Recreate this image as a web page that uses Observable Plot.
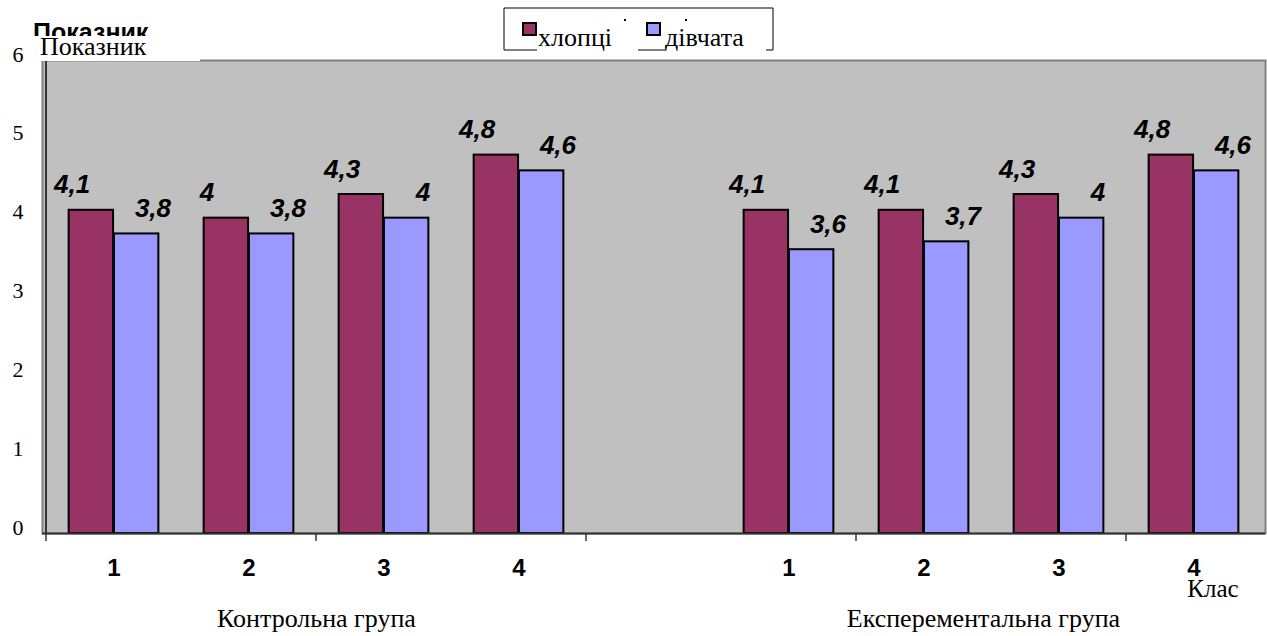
<!DOCTYPE html>
<html>
<head>
<meta charset="utf-8">
<script src="https://cdn.jsdelivr.net/npm/d3@7"></script>
<script src="https://cdn.jsdelivr.net/npm/@observablehq/plot@0.6"></script>
<style>
  html, body { margin: 0; padding: 0; background: #fff; }
  #chart svg { display: block; }
  .serif { font-family: "Liberation Serif", "DejaVu Serif", serif; }
</style>
</head>
<body>
<div id="chart"></div>
<script>
// ---- data ----
const groupKeys = ["К", "Е"];
const groupNames = ["Контрольна група", "Експерементальна група"];
const classes = ["1", "2", "3", "4"];
const series = ["хлопці", "дівчата"];
const boys  = [4.1, 4.0, 4.3, 4.8, 4.1, 4.1, 4.3, 4.8];
const girls = [3.8, 3.8, 4.0, 4.6, 3.6, 3.7, 4.0, 4.6];
const yTicks = [0, 1, 2, 3, 4, 5, 6];
const colors = ["#993366", "#9999FF"];
const yTitle = "Показник";
const xTitle = "Клас";

// slots: group 1 classes, empty slot, group 2 classes
const slots = [...classes.map(c => groupKeys[0] + c), "", ...classes.map(c => groupKeys[1] + c)];
const rows = [];
groupKeys.forEach((g, gi) => classes.forEach((c, ci) => {
  rows.push({slot: g + c, series: series[0], value: boys[gi * 4 + ci]});
  rows.push({slot: g + c, series: series[1], value: girls[gi * 4 + ci]});
}));
const fmt = v => String(v).replace(".", ",");

// ---- layout ----
const W = 1267, H = 636;
const mL = 42, mR = 2, mT = 60, mB = 103;
const step = (W - mL - mR) / slots.length;
const serif = "'Liberation Serif', 'DejaVu Serif', serif";
const sans = "'Liberation Sans', Arial, sans-serif";

const boysRows = rows.filter(d => d.series === series[0]);
const girlsRows = rows.filter(d => d.series === series[1]);
const labelStyle = {fontFamily: sans, fontWeight: "bold", fontStyle: "italic", fontSize: 26, fill: "#000",
  lineAnchor: "bottom", dy: -17};

const chart = Plot.plot({
  width: W, height: H,
  marginLeft: mL, marginRight: mR, marginTop: mT, marginBottom: mB,
  style: {background: "#fff", color: "#000"},
  x: {domain: slots, padding: 0, axis: null},
  y: {domain: [0, 6], axis: null},
  color: {domain: series, range: colors},
  marks: [
    Plot.frame({fill: "#c0c0c0", stroke: "#808080", strokeWidth: 2}),
    Plot.barY(boysRows, {x: "slot", y: "value", fill: "series", stroke: "#000", strokeWidth: 2,
      insetLeft: step / 6, insetRight: step / 2}),
    Plot.barY(girlsRows, {x: "slot", y: "value", fill: "series", stroke: "#000", strokeWidth: 2,
      insetLeft: step / 2, insetRight: step / 6}),
    Plot.text(boysRows, {x: "slot", y: "value", text: d => fmt(d.value), dx: -step / 4 - 8, ...labelStyle}),
    Plot.text(girlsRows, {x: "slot", y: "value", text: d => fmt(d.value), dx: step / 4 + 5, ...labelStyle}),
    Plot.ruleY([0], {stroke: "#333", strokeWidth: 2}),
    Plot.axisX({domain: slots, tickSize: 0, tickPadding: 25, fontSize: 24, fontWeight: "bold",
      fontFamily: sans, tickFormat: d => d.slice(1), label: null}),
    Plot.text(yTicks, {y: d => d, text: d => String(d), frameAnchor: "left", textAnchor: "end",
      dx: -19, dy: -6, fontSize: 22, fill: "#000", className: "serif"})
  ]
});

// ---- extra decorations derived from the scales ----
const svg = d3.select(chart);
const xs = chart.scale("x");
const ys = chart.scale("y");
const y0 = ys.apply(0), yTop = ys.apply(6);
const left = xs.apply(slots[0]);
const deco = svg.append("g").attr("text-anchor", "start").attr("fill", "#000");

// left axis line
deco.append("line").attr("x1", left).attr("x2", left).attr("y1", yTop).attr("y2", y0)
  .attr("stroke", "#333").attr("stroke-width", 2);
// category boundary ticks every two slots
slots.forEach((s, i) => {
  if (i % 2 === 0) {
    const x = xs.apply(s);
    deco.append("line").attr("x1", x).attr("x2", x).attr("y1", y0).attr("y2", y0 + 8)
      .attr("stroke", "#333").attr("stroke-width", 1.5);
  }
});
const serifText = (sel) => sel.append("text").attr("class", "serif").style("font-family", serif);
// group titles centered under their classes
groupKeys.forEach((g, gi) => {
  const a = xs.apply(g + classes[0]);
  const b = xs.apply(g + classes[classes.length - 1]) + step;
  serifText(deco).attr("x", (a + b) / 2 - (gi ? 8 : 0)).attr("y", 627)
    .attr("text-anchor", "middle").attr("font-size", 26)
    .text(groupNames[gi]);
});
// x title
serifText(deco).attr("x", 1213).attr("y", 597).attr("text-anchor", "middle")
  .attr("font-size", 25).text(xTitle);

// y title (bold copy hidden behind a white box, as in the original)
deco.append("text").attr("x", 33).attr("y", 41).style("font-family", sans).attr("font-weight", "bold")
  .attr("font-size", 25).text(yTitle);
deco.append("rect").attr("x", 33).attr("y", 36).attr("width", 167).attr("height", yTop - 36 + 1)
  .attr("fill", "#fff");
serifText(deco).attr("x", 40).attr("y", 55).attr("font-size", 26).text(yTitle);

// legend
const lg = deco.append("g");
const lx0 = 504, lx1 = 773, ly0 = 8, ly1 = 50;
const seg = (x1, y1, x2, y2) => lg.append("line").attr("x1", x1).attr("y1", y1).attr("x2", x2).attr("y2", y2)
  .attr("stroke", "#000").attr("stroke-width", 1);
seg(lx0, ly0, lx1, ly0);
seg(lx0, ly0, lx0, ly1);
seg(lx1, ly0, lx1, ly1);
seg(lx0, ly1, 537, ly1);
seg(638, ly1, 665, ly1);
seg(766, ly1, lx1, ly1);
const legendItems = [{sx: 523, tx: 538}, {sx: 647, tx: 665}];
series.forEach((s, i) => {
  lg.append("rect").attr("x", legendItems[i].sx).attr("y", 23).attr("width", 13).attr("height", 12)
    .attr("fill", colors[i]).attr("stroke", "#000").attr("stroke-width", 2);
  serifText(lg).attr("x", legendItems[i].tx).attr("y", 46).attr("font-size", 26).text(s);
});
lg.append("rect").attr("x", 624).attr("y", 19).attr("width", 2).attr("height", 2).attr("fill", "#000");
lg.append("rect").attr("x", 685).attr("y", 19).attr("width", 2).attr("height", 2).attr("fill", "#000");

document.getElementById("chart").appendChild(chart);
</script>
</body>
</html>
